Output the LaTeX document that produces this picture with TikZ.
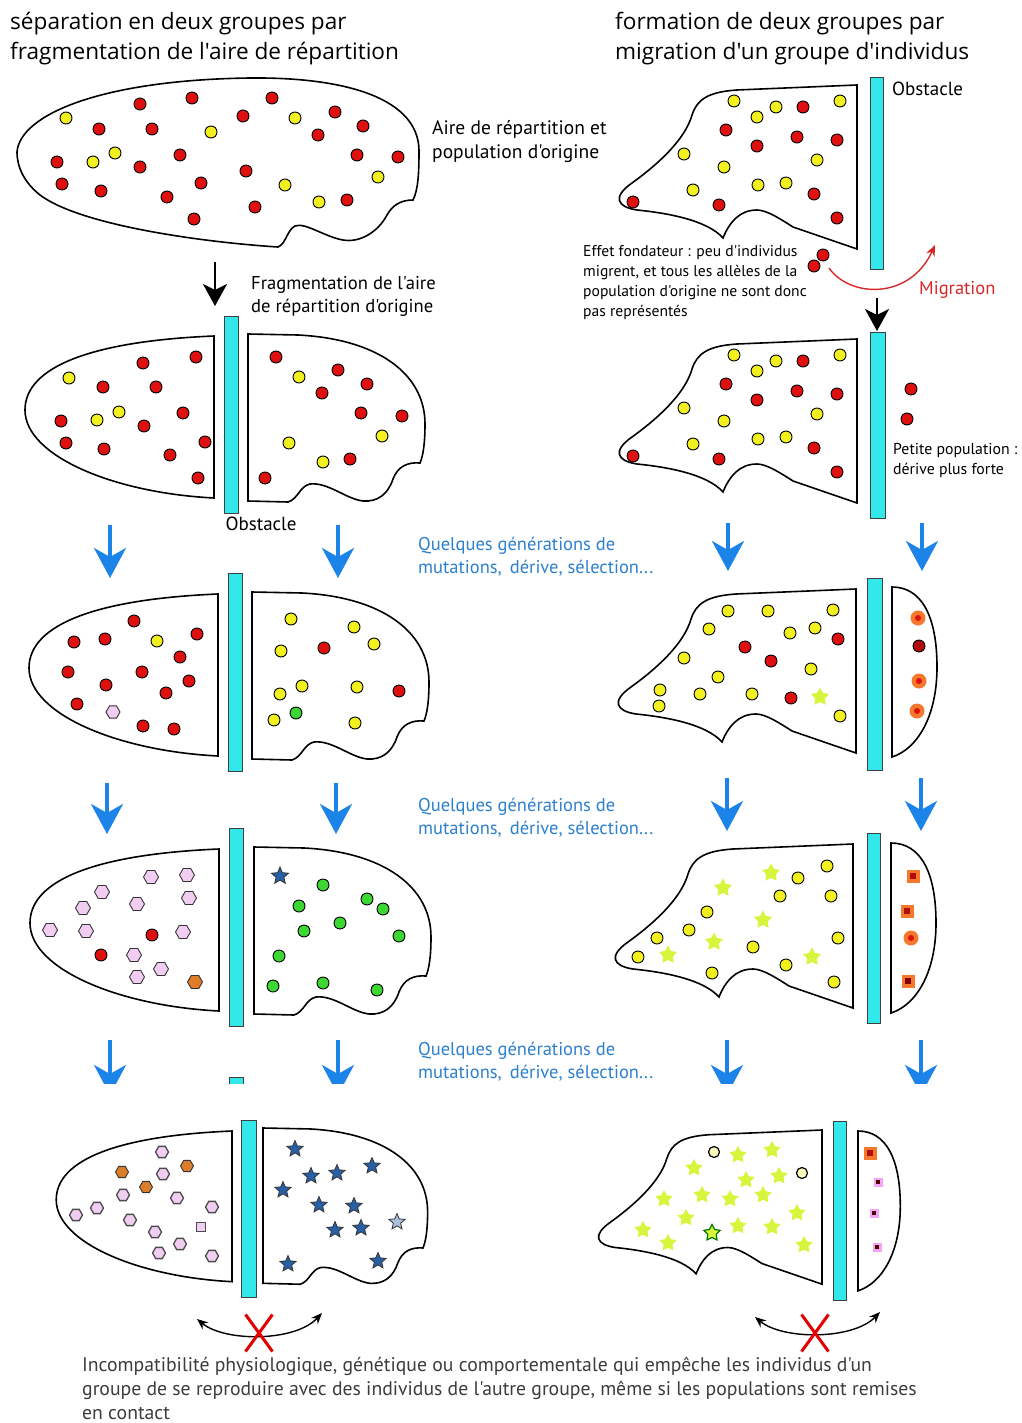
\documentclass[tikz,border=0pt]{standalone}
\usepackage{fontspec}
\setmainfont{PT Sans}[Ligatures=TeXOff]
\newfontfamily\titlefont{Open Sans}[Ligatures=TeXOff]
\usetikzlibrary{arrows.meta,shapes.geometric,shapes.misc}

\definecolor{barcyan}{RGB}{50,232,235}
\definecolor{arrowblue}{RGB}{28,132,232}
\definecolor{textblue}{RGB}{45,128,205}
\definecolor{dotred}{RGB}{222,16,16}
\definecolor{dotyellow}{RGB}{242,240,30}
\definecolor{dotgreen}{RGB}{60,215,50}
\definecolor{hexpink}{RGB}{242,205,242}
\definecolor{hexorange}{RGB}{225,125,40}
\definecolor{starblue}{RGB}{40,95,165}
\definecolor{starlime}{RGB}{215,245,60}
\definecolor{glow}{RGB}{245,120,45}
\definecolor{migred}{RGB}{215,40,40}
\definecolor{textgray}{RGB}{60,60,60}

\tikzset{
  outline/.style={line width=1.6pt},
  bar/.style={fill=barcyan, draw=black!75, line width=1pt},
  dot/.style={circle, draw=black, line width=0.9pt, inner sep=0pt, minimum size=12pt},
  reddot/.style={dot, fill=dotred},
  yellowdot/.style={dot, fill=dotyellow},
  greendot/.style={dot, fill=dotgreen},
  ringdot/.style={dot, fill=dotyellow!30, minimum size=11pt, line width=1.2pt},
  hexdot/.style={regular polygon, regular polygon sides=6, draw=black!80, line width=0.9pt,
    inner sep=0pt, minimum size=15pt, fill=hexpink},
  orangehex/.style={hexdot, fill=hexorange},
  bluestar/.style={star, star points=5, star point ratio=2.2, draw=black!80, line width=0.8pt,
    inner sep=0pt, minimum size=18pt, fill=starblue},
  limestar/.style={star, star points=5, star point ratio=1.9, inner sep=0pt, minimum size=19pt, fill=starlime},
  glowdot/.style={circle, inner sep=0pt, minimum size=15pt, fill=glow,
    path picture={\fill[dotred] (path picture bounding box.center) circle (3);}},
  glowsquare/.style={rectangle, inner sep=0pt, minimum size=13pt, fill=glow,
    path picture={\fill[dotred!80!black] ([xshift=-3pt,yshift=-3pt]path picture bounding box.center) rectangle +(6pt,6pt);}},
  pinksquare/.style={rectangle, inner sep=0pt, minimum size=9pt, fill=hexpink!80!magenta,
    path picture={\fill[black!70!red] ([xshift=-2pt,yshift=-2pt]path picture bounding box.center) rectangle +(4pt,4pt);}},
  bluearrow/.style={arrowblue, line width=3.5pt, -{Stealth[width=32pt,length=30pt,inset=9pt]}},
  blackarrow/.style={black, line width=2.6pt, -{Stealth[width=24pt,length=22pt,inset=6pt]}},
  migarrow/.style={migred, line width=1.4pt, -{Stealth[width=9pt,length=11pt]}},
  dblarrow/.style={black, line width=1.4pt, {Stealth[width=9pt,length=11pt]}-{Stealth[width=9pt,length=11pt]}},
  redx/.style={cross out, draw=red!90!black, line width=3pt, inner sep=0pt, minimum width=24pt, minimum height=34pt},
  titletext/.style={font=\titlefont\fontsize{22.6}{30}\selectfont, align=left, inner sep=0pt, anchor=north west},
  labeltext/.style={font=\fontsize{19.5}{24}\selectfont, align=left, inner sep=0pt, anchor=north west},
  smalltext/.style={font=\fontsize{15.6}{20}\selectfont, align=left, inner sep=0pt, anchor=north west},
  bluetext/.style={labeltext, text=textblue, font=\fontsize{18.5}{22.5}\selectfont},
  % half of the area, left of the obstacle (origin: top right corner)
  lefthalf/.pic={\draw[outline] (0,0) .. controls (-120,5) and (-189,30) .. (-189,74)
      .. controls (-189,120) and (-100,157) .. (0,162) -- cycle;},
  % half of the area, right of the obstacle (origin: top left corner)
  righthalf/.pic={\draw[outline] (0,0) -- (50,1) .. controls (130,5) and (177,40) .. (177,90)
      .. controls (177,110) and (175,122) .. (172,129) .. controls (160,128) and (150,132) .. (145,145)
      .. controls (140,160) and (130,168) .. (115,167) .. controls (98,165) and (80,148) .. (62,150)
      .. controls (52,152) and (50,165) .. (40,168) -- (0,167) -- cycle;},
  % area of the migration side (origin: top right corner)
  bigarea/.pic={\draw[outline] (0,0) -- (-120,5) .. controls (-150,7) and (-160,15) .. (-165,30)
      .. controls (-172,55) and (-200,80) .. (-225,98) .. controls (-245,112) and (-240,122) .. (-220,125)
      .. controls (-190,128) and (-150,135) .. (-134,153) .. controls (-128,138) and (-118,125) .. (-100,125)
      .. controls (-90,125) and (-75,135) .. (-64,142) -- (0,164) -- cycle;},
  % small area of the founders (origin: top left corner)
  smallarea/.pic={\draw[outline] (0,0) .. controls (30,0) and (45,30) .. (45,80)
      .. controls (45,130) and (25,162) .. (0,170) -- cycle;}
}

\begin{document}
\begin{tikzpicture}[x=1pt, y=-1pt]
  \useasboundingbox (0,0) rectangle (1021,1423);

  % Titles
  \node[titletext] (titleL) at (10,12) {séparation en deux groupes par\\fragmentation de l'aire de répartition};
  \node[titletext] (titleR) at (615,12) {formation de deux groupes par\\migration d'un groupe d'individus};

  % ---------------- left column ----------------
  % Original area
  \draw[outline] (17,152) .. controls (20,115) and (100,80) .. (250,78) .. controls (350,77) and (418,100) .. (419,150)
      .. controls (419,175) and (418,190) .. (413,200) .. controls (400,200) and (392,206) .. (387,215)
      .. controls (378,232) and (360,243) .. (343,240) .. controls (325,237) and (305,222) .. (295,226)
      .. controls (287,230) and (286,244) .. (278,247) .. controls (200,242) and (80,225) .. (40,195)
      .. controls (25,183) and (17,168) .. (17,152) -- cycle;
  \foreach \x/\y [count=\n] in {140/104,192/98,272/98,335/112,363/126,318/135,243/116,99/129,152/129,180/155,
      57/162,140/167,246/171,357/155,398/157,62/184,101/191,201/183,167/197,255/207,347/200,194/219}
    \node[reddot] (ar\n) at (\x,\y) {};
  \foreach \x/\y [count=\n] in {66/118,211/132,295/118,115/153,93/162,285/185,378/177,319/202}
    \node[yellowdot] (ay\n) at (\x,\y) {};
  \node[labeltext] (aire) at (432,120) {Aire de répartition et\\population d'origine};

  % Fragmentation
  \coordinate (fa) at (215,262);
  \coordinate (fb) at (215,306);
  \draw[blackarrow] (fa) -- (fb);
  \node[labeltext, font=\fontsize{18.6}{23}\selectfont] (frag) at (251,276) {Fragmentation de l'aire\\de répartition d'origine};

  % Row 2
  \draw[bar] (224,316) rectangle (238,513);
  \pic at (214,336) {lefthalf};
  \pic at (248,334) {righthalf};
  \foreach \x/\y [count=\n] in {143/363,196/357,103/387,156/387,61/421,183/413,144/426,66/443,104/449,205/442,
      170/455,198/478,276/357,338/370,367/384,322/393,361/413,402/416,350/459,265/478}
    \node[reddot] (br\n) at (\x,\y) {};
  \foreach \x/\y [count=\n] in {69/378,97/420,119/412,299/377,289/443,382/436,323/462}
    \node[yellowdot] (by\n) at (\x,\y) {};
  \node[labeltext, anchor=north, font=\fontsize{19}{24}\selectfont] (obsL) at (261,517) {Obstacle};

  % Row 3
  \draw[bar] (228,573) rectangle (242,771);
  \pic at (218,594) {lefthalf};
  \pic at (252,592) {righthalf};
  \foreach \x/\y [count=\n] in {134/621,74/642,105/639,197/634,180/657,68/672,142/672,189/681,106/685,166/693,
      77/704,143/726,174/729,324/648,399/691}
    \node[reddot] (cr\n) at (\x,\y) {};
  \foreach \x/\y [count=\n] in {157/641,291/619,354/627,374/644,281/651,302/686,280/694,357/687,274/720,355/723}
    \node[yellowdot] (cy\n) at (\x,\y) {};
  \node[greendot] (cg1) at (296,713) {};
  \node[hexdot, minimum size=14pt] (ch1) at (113,712) {};

  % Row 4
  \draw[bar] (229,828) rectangle (243,1026);
  \pic at (219,849) {lefthalf};
  \pic at (254,847) {righthalf};
  \foreach \x/\y [count=\n] in {151/877,187/875,102/892,189/898,83/908,137/904,50/930,86/931,183/932,134/955,161/969,137/977}
    \node[hexdot] (dh\n) at (\x,\y) {};
  \node[reddot] (dr1) at (152,935) {};
  \node[reddot] (dr2) at (101,955) {};
  \node[orangehex] (do1) at (195,982) {};
  \node[bluestar] (ds1) at (280,876) {};
  \foreach \x/\y [count=\n] in {323/885,299/906,367/899,383/909,340/923,304/931,399/936,279/956,273/986,323/983,377/990}
    \node[greendot] (dg\n) at (\x,\y) {};

  % Row 5 (after the cut)
  \draw[bar] (241,1120) rectangle (256,1297);
  \pic[scale=.93] at (232,1131) {lefthalf};
  \pic[scale=.93] at (263,1128) {righthalf};
  \foreach \x/\y [count=\n] in {162/1152,163/1174,123/1195,177/1198,212/1207,76/1215,97/1208,130/1220,155/1232,180/1244,159/1253,212/1256}
    \node[hexdot, minimum size=13pt, line width=1.3pt, draw=black!70] (eh\n) at (\x,\y) {};
  \foreach \x/\y [count=\n] in {187/1166,122/1172,146/1187}
    \node[orangehex, minimum size=13pt, fill=hexorange!85!brown] (eo\n) at (\x,\y) {};
  \node[rectangle, draw=black!70, line width=1.2pt, fill=hexpink, minimum size=9pt, inner sep=0pt] (eq1) at (201,1227) {};
  \foreach \x/\y [count=\n] in {295/1149,311/1176,337/1173,372/1166,283/1190,319/1205,354/1206,335/1230,361/1228,288/1264,378/1261}
    \node[bluestar, minimum size=17pt] (es\n) at (\x,\y) {};
  \node[bluestar, minimum size=17pt, fill=starblue!40] (es12) at (397,1222) {};

  % No more reproduction between the two groups
  \coordinate (xa) at (197,1319);
  \coordinate (xb) at (322,1313);
  \draw[dblarrow] (xa) .. controls (225,1342) and (295,1342) .. (xb);
  \node[redx] (xL) at (259,1333) {};

  % ---------------- right column ----------------
  % Original area and migrants
  \draw[bar] (870,78) rectangle (883,269);
  \node[labeltext, font=\fontsize{19}{24}\selectfont] (obsR) at (892,82) {Obstacle};
  \foreach \dy/\r in {0/f, 254/g} {
    \begin{scope}[yshift=-\dy pt]
      \pic at (857,85) {bigarea};
      \foreach \x/\y [count=\n] in {734/101,757/117,776/107,840/101,684/154,724/167,817/160,693/190,758/185,786/183}
        \node[yellowdot] (\r y\n) at (\x,\y) {};
      \foreach \x/\y [count=\n] in {803/107,726/130,757/146,797/137,837/140,633/202,719/205,814/194,837/218}
        \node[reddot] (\r r\n) at (\x,\y) {};
    \end{scope}
  }
  \node[reddot] (mg1) at (823,255) {};
  \node[reddot] (mg2) at (814,266) {};
  \coordinate (ma) at (829,268);
  \coordinate (mb) at (935,245);
  \draw[migarrow] (ma) .. controls (850,298) and (910,300) .. (mb);
  \node[labeltext, text=migred, font=\fontsize{18.5}{20}\selectfont] (mig) at (919,281) {Migration};
  \node[smalltext] (effet) at (583,245) {Effet fondateur : peu d'individus\\migrent, et tous les allèles de la\\population d'origine ne sont donc\\pas représentés};
  \coordinate (ga) at (877,298);
  \coordinate (gb) at (877,331);
  \draw[blackarrow] (ga) -- (gb);

  % Row 2: founders beyond the obstacle
  \draw[bar] (870,332) rectangle (885,518);
  \node[reddot] (pr1) at (911,389) {};
  \node[reddot] (pr2) at (907,419) {};
  \node[smalltext, font=\fontsize{15.8}{20}\selectfont] (petite) at (893,443) {Petite population :\\dérive plus forte};

  % Row 3
  \draw[bar] (867,578) rectangle (882,770);
  \pic at (856,589) {bigarea};
  \pic at (892,587) {smallarea};
  \foreach \x/\y [count=\n] in {728/611,768/611,833/610,709/629,790/633,815/628,684/658,718/677,811/669,660/690,
      659/706,700/694,752/694,840/716}
    \node[yellowdot] (hy\n) at (\x,\y) {};
  \foreach \x/\y [count=\n] in {745/647,838/639,771/661,791/698}
    \node[reddot] (hr\n) at (\x,\y) {};
  \node[limestar] (hs1) at (820,697) {};
  \foreach \x/\y [count=\n] in {918/618,919/681,917/711}
    \node[glowdot] (hg\n) at (\x,\y) {};
  \node[reddot, fill=dotred!80!black] (hr5) at (919,646) {};

  % Row 4
  \draw[bar] (867,833) rectangle (880,1023);
  \pic at (853,844) {bigarea};
  \pic at (891,843) {smallarea};
  \foreach \x/\y [count=\n] in {827/866,798/878,780/896,831/896,707/912,689/930,657/938,638/957,753/947,838/938,786/965,712/973,834/982}
    \node[yellowdot] (iy\n) at (\x,\y) {};
  \foreach \x/\y [count=\n] in {771/873,723/888,763/920,714/942,668/955,812/957}
    \node[limestar] (is\n) at (\x,\y) {};
  \node[glowsquare] (iq1) at (913,876) {};
  \node[glowsquare] (iq2) at (907,911) {};
  \node[glowdot] (ig1) at (911,938) {};
  \node[glowsquare, path picture={\fill[black!50!red] ([xshift=-3pt,yshift=-3pt]path picture bounding box.center) rectangle +(6pt,6pt);}] (iq3) at (908,981) {};

  % Row 5 (after the cut)
  \draw[bar] (833,1121) rectangle (846,1300);
  \pic[scale=.94] at (822,1130) {bigarea};
  \pic[scale=.94] at (858,1131) {smallarea};
  \foreach \x/\y [count=\n] in {738/1155,772/1150,694/1168,746/1180,779/1176,664/1199,702/1195,730/1199,763/1195,
      797/1213,686/1218,738/1226,772/1227,643/1230,668/1243,804/1245}
    \node[limestar, minimum size=18pt] (js\n) at (\x,\y) {};
  \node[limestar, minimum size=17pt, draw=green!45!black, line width=1.2pt] (js17) at (712,1233) {};
  \node[ringdot] (jy1) at (714,1152) {};
  \node[ringdot] (jy2) at (802,1173) {};
  \node[glowsquare] (jq1) at (870,1153) {};
  \foreach \x/\y [count=\n] in {878/1182,874/1213,877/1247}
    \node[pinksquare] (jp\n) at (\x,\y) {};

  \coordinate (ya) at (755,1317);
  \coordinate (yb) at (880,1312);
  \draw[dblarrow] (ya) .. controls (783,1340) and (853,1340) .. (yb);
  \node[redx] (xR) at (815,1333) {};

  % ---------------- generations ----------------
  \foreach \x/\ya/\yb [count=\n] in {110/525/578,338/525/578,728/523/571,922/523/571,
      107/783/834,336/783/834,727/778/831,921/778/831} {
    \coordinate (ba\n) at (\x,\ya);
    \coordinate (bb\n) at (\x,\yb);
    \draw[bluearrow] (ba\n) -- (bb\n);
  }
  \begin{scope}
    % the picture is cut here
    \clip (0,0) rectangle (1021,1083);
    \foreach \x [count=\n] in {110,338,727,921} {
      \coordinate (ca\n) at (\x,1040);
      \coordinate (cb\n) at (\x,1095);
      \draw[bluearrow] (ca\n) -- (cb\n);
    }
    \draw[bar] (229,1077) rectangle (243,1100);
  \end{scope}
  \foreach \y [count=\n] in {537,798,1042}
    \node[bluetext] (gen\n) at (418,\y) {Quelques générations de\\mutations,\, dérive, sélection...};

  % Conclusion
  \node[labeltext, text=textgray, font=\fontsize{19.7}{24}\selectfont] (incomp) at (82,1357)
    {Incompatibilité physiologique, génétique ou comportementale qui empêche les individus d'un\\
     groupe de se reproduire avec des individus de l'autre groupe, même si les populations sont remises\\
     en contact};
\end{tikzpicture}
\end{document}
